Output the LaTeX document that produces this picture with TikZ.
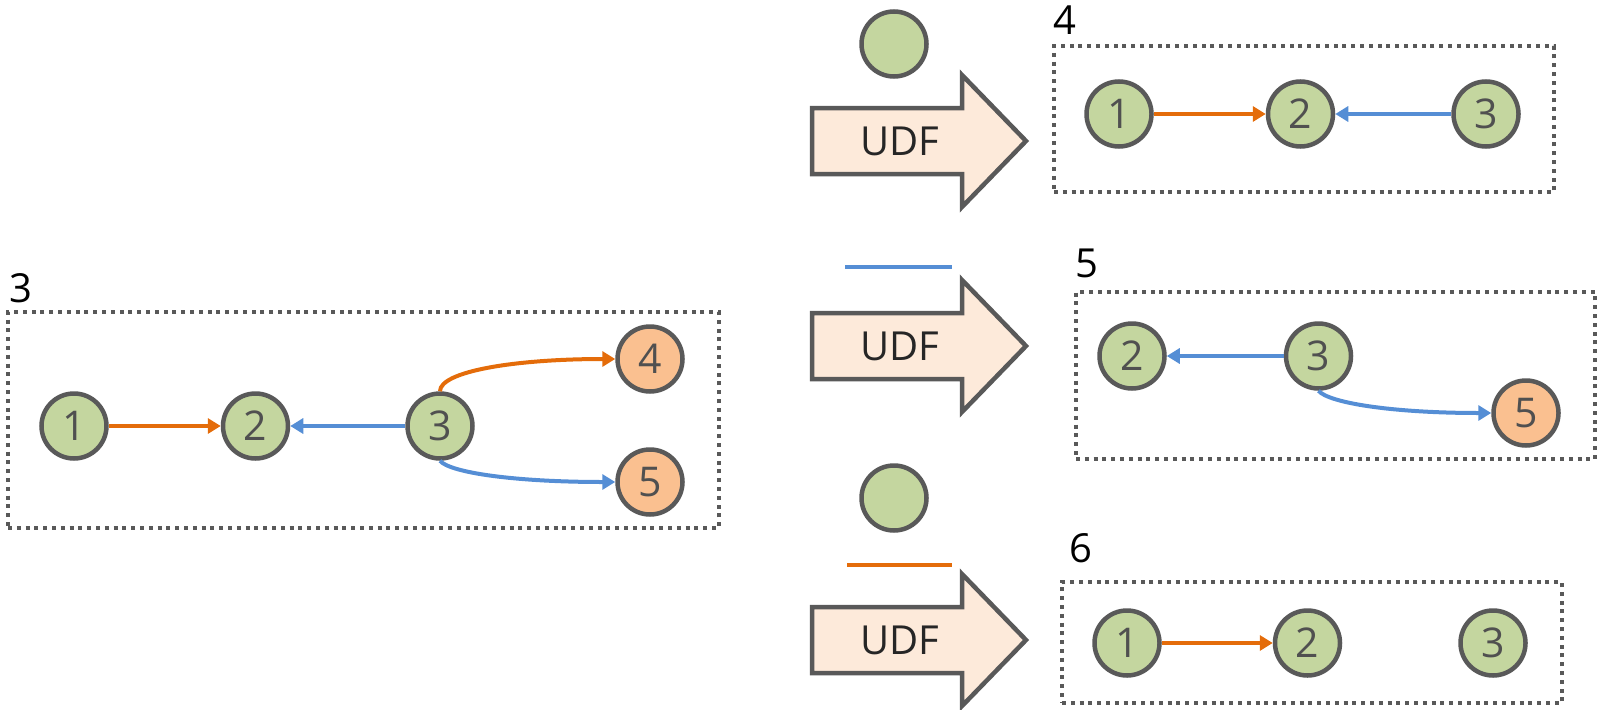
\documentclass[tikz,border=0pt]{standalone}
\usepackage{fontspec}
\setmainfont{Open Sans}
\usetikzlibrary{positioning,arrows.meta}

\definecolor{nodegreen}{HTML}{C4D69F}
\definecolor{nodeorange}{HTML}{FAC090}
\definecolor{linegray}{HTML}{595959}
\definecolor{digitgray}{HTML}{505050}
\definecolor{edgeorange}{HTML}{E46C0A}
\definecolor{edgeblue}{HTML}{558ED5}
\definecolor{udffill}{HTML}{FDEADA}

\tikzset{
  vertex/.style={circle, draw=linegray, line width=4.5pt, fill=nodegreen,
    minimum size=65pt, inner sep=0pt, text=digitgray,
    font=\fontsize{41pt}{41pt}\selectfont},
  leaf/.style={vertex, fill=nodeorange},
  panel/.style={draw=linegray, line width=4pt, dash pattern=on 4pt off 4.8pt,
    inner sep=0pt},
  tag/.style={anchor=base west, inner sep=0pt, font=\fontsize{40pt}{40pt}\selectfont},
  oedge/.style={-{Triangle[length=13pt,width=15pt]}, line width=4pt, draw=edgeorange},
  bedge/.style={-{Triangle[length=13pt,width=15pt]}, line width=4pt, draw=edgeblue},
  udf/.style={draw=linegray, line width=4.5pt, fill=udffill, line join=miter},
  udftext/.style={text=black!85, font=\fontsize{40pt}{40pt}\selectfont},
}

\begin{document}
\begin{tikzpicture}[x=1pt, y=-1pt]
    \useasboundingbox (0,0) rectangle (1597,709);

    % input graph
    \node[panel, minimum width=711pt, minimum height=216pt] (p3) at (363.5,420) {};
    \node[tag] (t3) at (9,302) {3};
    \node[vertex] (l1) at (74,426) {1};
    \node[vertex] (l2) [right=112pt of l1] {2};
    \node[vertex] (l3) [right=115pt of l2] {3};
    \node[leaf] (l4) at (650,359) {4};
    \node[leaf] (l5) at (650,482) {5};
    \draw [oedge] (l1) -- (l2);
    \draw [bedge] (l3) -- (l2);
    \draw [oedge] (l3.north) .. controls +(0,-20) and +(-100,0) .. (l4.west);
    \draw [bedge] (l3.south) .. controls +(10,12) and +(-100,0) .. (l5.west);

    % udf arrows
    \node[vertex] (g1) at (894,44) {};
    \draw[udf] (812,108) -- (962,108) -- (962,75) -- (1026,141) -- (962,207)
        -- (962,174) -- (812,174) -- cycle;
    \node[udftext] (u1) at (900,141) {UDF};

    \coordinate (b1) at (845,267);
    \coordinate (b2) at (952,267);
    \draw[line width=4pt, edgeblue] (b1) -- (b2);
    \draw[udf] (812,313) -- (962,313) -- (962,280) -- (1026,346) -- (962,412)
        -- (962,379) -- (812,379) -- cycle;
    \node[udftext] (u2) at (900,346) {UDF};

    \node[vertex] (g2) at (894,498) {};
    \coordinate (o1) at (847,565);
    \coordinate (o2) at (952,565);
    \draw[line width=4.5pt, edgeorange] (o1) -- (o2);
    \draw[udf] (812,607) -- (962,607) -- (962,574) -- (1026,640) -- (962,706)
        -- (962,673) -- (812,673) -- cycle;
    \node[udftext] (u3) at (900,640) {UDF};

    % output 4
    \node[panel, minimum width=500pt, minimum height=146pt] (p4) at (1304,119) {};
    \node[tag] (t4) at (1053,35) {4};
    \node[vertex] (a1) at (1119,114) {1};
    \node[vertex] (a2) [right=112pt of a1] {2};
    \node[vertex] (a3) [right=116pt of a2] {3};
    \draw [oedge] (a1) -- (a2);
    \draw [bedge] (a3) -- (a2);

    % output 5
    \node[panel, minimum width=519pt, minimum height=167pt] (p5) at (1335.5,375.5) {};
    \node[tag] (t5) at (1075,277) {5};
    \node[vertex] (m2) at (1132,356) {2};
    \node[vertex] (m3) [right=117pt of m2] {3};
    \node[leaf] (m5) at (1526,413) {5};
    \draw [bedge] (m3) -- (m2);
    \draw [bedge] (m3.south) .. controls +(10,12) and +(-100,0) .. (m5.west);

    % output 6
    \node[panel, minimum width=500pt, minimum height=121pt] (p6) at (1312,642.5) {};
    \node[tag] (t6) at (1069,562) {6};
    \node[vertex] (c1) at (1127,643) {1};
    \node[vertex] (c2) [right=111pt of c1] {2};
    \node[vertex] (c3) [right=116pt of c2] {3};
    \draw [oedge] (c1) -- (c2);
\end{tikzpicture}
\end{document}
